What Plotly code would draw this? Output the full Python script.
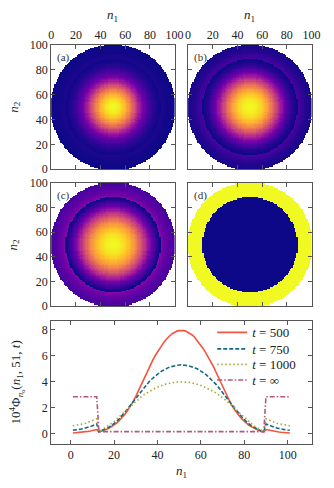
import math
import plotly.graph_objects as go

# radial profiles, 10^4 * Phi, at r = |n1 - 51| = 0..50 (boundary of inner disk at r = 38)
RADIUS = list(range(51))
PROFILE_500 = [7.95, 7.94, 7.90, 7.82, 7.72, 7.60, 7.45, 7.25, 7.05, 6.82,
               6.57, 6.30, 6.02, 5.72, 5.42, 5.10, 4.73, 4.36, 3.98, 3.60,
               3.24, 2.88, 2.55, 2.25, 1.98, 1.72, 1.50, 1.30, 1.12, 0.95,
               0.80, 0.67, 0.56, 0.46, 0.37, 0.30, 0.23, 0.17, 0.12,
               0.32, 0.28, 0.24, 0.21, 0.18, 0.15, 0.13, 0.11, 0.09, 0.08, 0.07, 0.06]
PROFILE_750 = [5.30, 5.29, 5.27, 5.24, 5.20, 5.15, 5.09, 5.02, 4.93, 4.83,
               4.72, 4.60, 4.46, 4.31, 4.15, 3.98, 3.80, 3.60, 3.40, 3.19,
               2.97, 2.75, 2.52, 2.30, 2.08, 1.86, 1.65, 1.45, 1.26, 1.08,
               0.92, 0.78, 0.65, 0.54, 0.44, 0.36, 0.28, 0.21, 0.15,
               0.75, 0.68, 0.61, 0.55, 0.49, 0.44, 0.40, 0.36, 0.33, 0.30, 0.28, 0.27]
PROFILE_1000 = [4.00, 3.995, 3.98, 3.96, 3.94, 3.91, 3.87, 3.83, 3.78, 3.72,
                3.65, 3.58, 3.50, 3.42, 3.33, 3.24, 3.14, 3.03, 2.91, 2.78,
                2.64, 2.50, 2.36, 2.21, 2.06, 1.90, 1.74, 1.58, 1.42, 1.26,
                1.10, 0.95, 0.81, 0.68, 0.56, 0.45, 0.35, 0.25, 0.15,
                1.15, 1.07, 1.00, 0.93, 0.87, 0.81, 0.76, 0.72, 0.68, 0.65, 0.63, 0.61]
PROFILE_INF = [0.16] * 39 + [2.85] * 12

SERIES = [
    ("<i>t</i> = 500", PROFILE_500, "#F5533D", "solid"),
    ("<i>t</i> = 750", PROFILE_750, "#126A84", "4px,2px"),
    ("<i>t</i> = 1000", PROFILE_1000, "#A9A832", "1.5px,2.5px"),
    ("<i>t</i> = \u221e", PROFILE_INF, "#B4587F", "5px,2px,1.5px,2px"),
]
PANEL_LABELS = ["(a)", "(b)", "(c)", "(d)"]
GRID = list(range(101))          # n1, n2 in the maps
N1 = list(range(1, 102))          # n1 in the cut at n2 = 51
TICKS_MAP = [0, 20, 40, 60, 80, 100]

W, H = 334, 488
FONT = "Liberation Serif, DejaVu Serif, serif"
AX = "#555555"


def px(x):
    return x / W


def py(y):
    return 1 - y / H


def disk(profile):
    z = []
    for j in GRID:
        row = []
        for i in GRID:
            r = round(math.hypot(i - 50, j - 50))
            row.append(profile[r] if r <= 50 else None)
        z.append(row)
    return z


def sfx(n):
    return "" if n == 1 else str(n)


fig = go.Figure()

boxes = [(50, 178, 39, 167), (192, 320, 39, 167), (50, 178, 181, 308), (192, 320, 181, 308)]
for k, ((name, prof, _, _), (x0, x1, y0, y1)) in enumerate(zip(SERIES, boxes)):
    s = sfx(k + 1)
    fig.add_trace(go.Heatmap(x=GRID, y=GRID, z=disk(prof), colorscale="Plasma",
                             showscale=False, hoverinfo="skip",
                             xaxis=f"x{s}", yaxis=f"y{s}"))
    common = dict(range=[0, 100], tickvals=TICKS_MAP, ticks="inside", ticklen=4,
                  tickcolor=AX, showline=True, linecolor=AX, linewidth=1,
                  mirror="ticks", showgrid=False, zeroline=False,
                  tickfont=dict(family=FONT, size=12, color="#222"))
    fig.layout[f"xaxis{s}"] = dict(common, domain=[px(x0), px(x1)], anchor=f"y{s}",
                                   side="top", showticklabels=k <= 1)
    fig.layout[f"yaxis{s}"] = dict(common, domain=[py(y1), py(y0)], anchor=f"x{s}",
                                   showticklabels=k in (0, 2))
    fig.add_annotation(text=PANEL_LABELS[k], xref=f"x{s} domain", yref=f"y{s} domain",
                       x=0.03, y=0.97, xanchor="left", yanchor="top", showarrow=False,
                       font=dict(family=FONT, size=11, color="#333"))

# one small legend per curve so the entries sit as tightly as in the original
legend_rows = [335, 352, 368, 384]
for k, (name, prof, color, dash) in enumerate(SERIES):
    lg = "legend" if k == 0 else f"legend{k + 1}"
    fig.add_trace(go.Scatter(x=N1, y=[prof[abs(n - 51)] for n in N1], mode="lines",
                             name=name, line=dict(color=color, width=1.6, dash=dash),
                             xaxis="x5", yaxis="y5", legend=lg))
    fig.layout[lg] = dict(x=px(217), y=py(legend_rows[k]), xanchor="left", yanchor="middle",
                          bgcolor="rgba(0,0,0,0)", borderwidth=0,
                          font=dict(family=FONT, size=13, color="#222"))

fig.update_layout(
    xaxis5=dict(domain=[px(50), px(320)], anchor="y5", range=[-9, 111],
                tickvals=[0, 20, 40, 60, 80, 100]),
    yaxis5=dict(domain=[py(450), py(323)], anchor="x5", range=[-0.8, 8.7],
                tickvals=[0, 2, 4, 6, 8]),
)
for ax in ("xaxis5", "yaxis5"):
    fig.layout[ax].update(ticks="inside", ticklen=4, tickcolor=AX, showline=True,
                          linecolor=AX, linewidth=1, mirror="ticks", showgrid=False,
                          zeroline=False, tickfont=dict(family=FONT, size=12, color="#222"))

titles = [
    ("<i>n</i><sub>1</sub>", 114, 9, 0),
    ("<i>n</i><sub>1</sub>", 256, 9, 0),
    ("<i>n</i><sub>2</sub>", 11, 103, -90),
    ("<i>n</i><sub>2</sub>", 11, 245, -90),
    ("<i>n</i><sub>1</sub>", 185, 478, 0),
    ("10<sup>4</sup>\u03a6<sub><i>n</i><sub>o</sub></sub>(<i>n</i><sub>1</sub>, 51, <i>t</i>)", 14, 386, -90),
]
for text, x, y, ang in titles:
    fig.add_annotation(text=text, xref="paper", yref="paper", x=px(x), y=py(y),
                       xanchor="center", yanchor="middle",
                       showarrow=False, textangle=ang,
                       font=dict(family=FONT, size=13, color="#222"))

fig.update_layout(
    width=W, height=H, margin=dict(l=0, r=0, t=0, b=0),
    paper_bgcolor="white", plot_bgcolor="white",
    showlegend=True,
)

fig.write_html("out.html", config={"displayModeBar": False},
               post_script="document.body.style.margin='0';")
